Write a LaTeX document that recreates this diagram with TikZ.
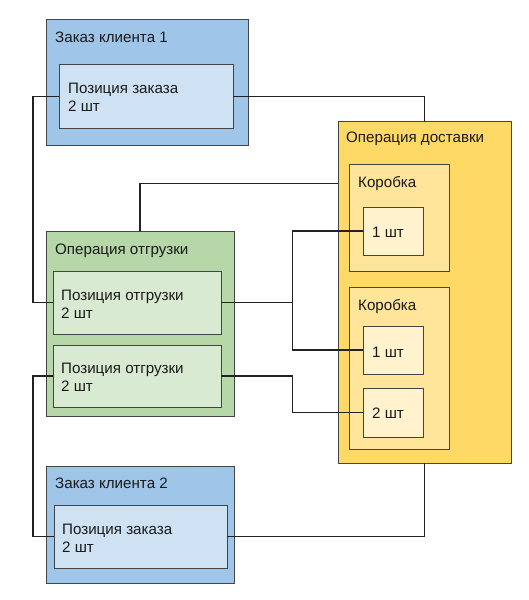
\documentclass[tikz,border=0pt]{standalone}
\usepackage{fontspec}
\setmainfont{Liberation Sans}
\begin{document}
\begin{tikzpicture}[x=1bp,y=-1bp,
  bx/.style={draw=bordc,line width=1bp,anchor=north west,inner sep=0pt,outer sep=0pt},
  lbl/.style={anchor=base west,inner sep=0pt,font=\fontsize{15.2}{18}\selectfont,text=txtc},
  conn/.style={draw=linec,line width=1.5bp}]
\definecolor{bordc}{HTML}{444444}
\definecolor{linec}{HTML}{222222}
\definecolor{txtc}{HTML}{1A1A1A}
\definecolor{blueo}{HTML}{9FC5E8}
\definecolor{bluei}{HTML}{CFE2F3}
\definecolor{greeno}{HTML}{B6D7A8}
\definecolor{greeni}{HTML}{D9EAD3}
\definecolor{yelo}{HTML}{FFD966}
\definecolor{yelm}{HTML}{FFE599}
\definecolor{yeli}{HTML}{FFF2CC}
\useasboundingbox (0,0) rectangle (529,600);
\fill[white] (0,0) rectangle (529,600);
% boxes
\node[bx,fill=blueo,minimum width=202bp,minimum height=125bp] (zk1) at (46,20) {};
\node[bx,fill=bluei,minimum width=174bp,minimum height=63bp] (zp1) at (59,65) {};
\node[bx,fill=greeno,minimum width=188bp,minimum height=185bp] (ship) at (46,231) {};
\node[bx,fill=greeni,minimum width=168bp,minimum height=63bp] (sp1) at (53,271) {};
\node[bx,fill=greeni,minimum width=168bp,minimum height=62bp] (sp2) at (53,345) {};
\node[bx,fill=blueo,minimum width=188bp,minimum height=117bp] (zk2) at (46,466) {};
\node[bx,fill=bluei,minimum width=173bp,minimum height=63bp] (zp2) at (54,505) {};
\node[bx,fill=yelo,minimum width=173bp,minimum height=341bp] (deliv) at (338,122) {};
\node[bx,fill=yelm,minimum width=100bp,minimum height=106bp] (box1) at (349,165) {};
\node[bx,fill=yeli,minimum width=60bp,minimum height=48bp] (b1i) at (363,207) {};
\node[bx,fill=yelm,minimum width=100bp,minimum height=162bp] (box2) at (349,287) {};
\node[bx,fill=yeli,minimum width=60bp,minimum height=48bp] (b2a) at (363,326) {};
\node[bx,fill=yeli,minimum width=60bp,minimum height=49bp] (b2b) at (363,388) {};
% labels
\node[lbl] (t1) at (55,43) {Заказ клиента 1};
\node[lbl] (t2) at (68,94) {Позиция заказа};
\node[lbl] (t3) at (68,112) {2 шт};
\node[lbl] (t4) at (55,254) {Операция отгрузки};
\node[lbl] (t5) at (61,300) {Позиция отгрузки};
\node[lbl] (t6) at (61,318) {2 шт};
\node[lbl] (t7) at (61,373) {Позиция отгрузки};
\node[lbl] (t8) at (61,391) {2 шт};
\node[lbl] (t9) at (55,488) {Заказ клиента 2};
\node[lbl] (t10) at (62,534) {Позиция заказа};
\node[lbl] (t11) at (62,552) {2 шт};
\node[lbl] (t12) at (346,143) {Операция доставки};
\node[lbl] (t13) at (358,187) {Коробка};
\node[lbl] (t14) at (372,237) {1 шт};
\node[lbl] (t15) at (358,310) {Коробка};
\node[lbl] (t16) at (372,357) {1 шт};
\node[lbl] (t17) at (372,418) {2 шт};
% junction coordinates
\coordinate (lx1) at ([xshift=-26bp]zp1.west);
\coordinate (lx2) at ([xshift=-20bp]sp2.west);
\coordinate (ja) at (sp1.east -| 292.5,0);
\coordinate (jb) at (sp2.east -| 292.5,0);
\coordinate (dl) at ([yshift=-61.5bp]deliv.north west);
% connectors
\draw[conn] (zp1.west) -- (lx1) |- (sp1.west);
\draw[conn] (sp2.west) -- (lx2) |- (zp2.west);
\draw[conn] (zp1.east) -| (deliv.north);
\draw[conn] (ship.north) |- (dl);
\draw[conn] (sp1.east) -- (ja);
\draw[conn] (b1i.west) -| (ja) |- (b2a.west);
\draw[conn] (sp2.east) -- (jb) |- (b2b.west);
\draw[conn] (deliv.south) |- (zp2.east);
\end{tikzpicture}
\end{document}
